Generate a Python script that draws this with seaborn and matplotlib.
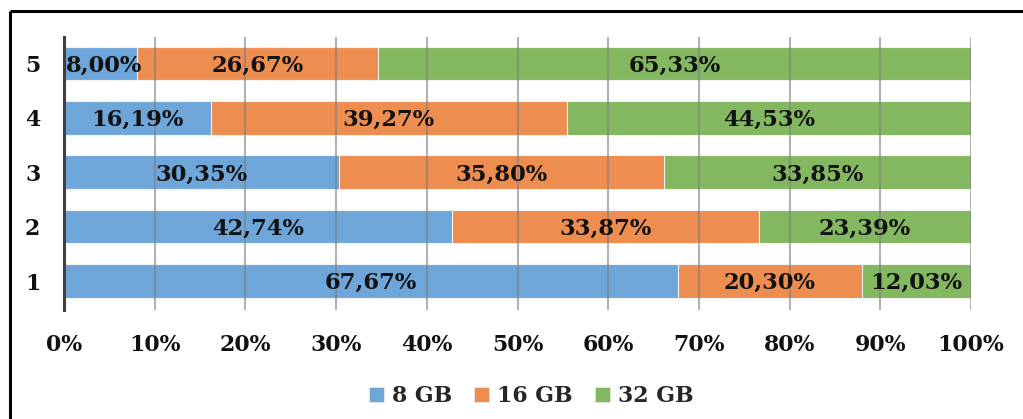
import matplotlib
matplotlib.use("Agg")
import matplotlib.pyplot as plt
from matplotlib.lines import Line2D
from matplotlib.patches import Patch
import numpy as np
import pandas as pd
import seaborn as sns

# Share of each memory size per group (percent)
groups = ["1", "2", "3", "4", "5"]
series = ["8 GB", "16 GB", "32 GB"]
gb8 = [67.67, 42.74, 30.35, 16.19, 8.00]
gb16 = [20.30, 33.87, 35.80, 39.27, 26.67]
gb32 = [12.03, 23.39, 33.85, 44.53, 65.33]
xticks = [0, 10, 20, 30, 40, 50, 60, 70, 80, 90, 100]

colors = ["#6FA6D9", "#EE8D50", "#83B860"]

sns.set_theme(style="white")
plt.rcParams["font.family"] = ["DejaVu Serif"]
plt.rcParams["font.weight"] = "bold"

df = pd.DataFrame({"group": groups, "8 GB": gb8, "16 GB": gb16, "32 GB": gb32})
df["c1"] = df["8 GB"]
df["c2"] = df["8 GB"] + df["16 GB"]
df["c3"] = df["c2"] + df["32 GB"]

order = groups[::-1]

fig = plt.figure(figsize=(10.23, 4.19), dpi=100)
ax = fig.add_axes([64 / 1023, 1 - 310 / 419, 907 / 1023, 273 / 419])

# Stacked bars: draw cumulative totals from back to front
for col, color in zip(["c3", "c2", "c1"], colors[::-1]):
    sns.barplot(data=df, x=col, y="group", order=order, orient="h",
                color=color, saturation=1, width=0.62,
                edgecolor="#F2F2F2", linewidth=0.8, ax=ax, zorder=2)

# Segment labels
lefts = {"8 GB": df["c1"] - df["8 GB"], "16 GB": df["c2"] - df["16 GB"],
         "32 GB": df["c3"] - df["32 GB"]}
for s in series:
    for i, g in enumerate(groups):
        val = df.loc[i, s]
        xc = lefts[s][i] + val / 2
        if val < 10:
            xc += 0.4
        yc = order.index(g)
        ax.text(xc, yc + 0.04, f"{val:.2f}%".replace(".", ","), ha="center",
                va="center", fontsize=16.3, fontweight="bold", color="#111111",
                zorder=5)

ax.set_xlim(0, 100)
ax.set_ylim(4.533, -0.487)
ax.set_xticks(xticks)
ax.set_xticklabels([f"{t}%" for t in xticks])
ax.xaxis.grid(True, color="#7F7F7F", linewidth=1.5, alpha=0.6, zorder=4)
ax.set_axisbelow(False)
ax.yaxis.grid(False)
for sp in ["top", "right", "bottom"]:
    ax.spines[sp].set_visible(False)
ax.spines["left"].set_color("#404040")
ax.spines["left"].set_linewidth(2.2)
ax.spines["left"].set_zorder(6)
ax.tick_params(axis="x", length=0, pad=17, labelsize=15.8)
ax.tick_params(axis="y", length=0, pad=17, labelsize=15.8)
for lab in ax.get_xticklabels() + ax.get_yticklabels():
    lab.set_fontweight("bold")
    lab.set_color("#111111")
ax.set_xlabel("")
ax.set_ylabel("")

handles = [Patch(facecolor=c, edgecolor="#E8E8E8", linewidth=0.6) for c in colors]
fig.legend(handles, series, loc="center", bbox_to_anchor=(531 / 1023, 1 - 396 / 419),
           ncol=3, frameon=False, handlelength=0.7, handleheight=0.7,
           handletextpad=0.35, columnspacing=1.0,
           prop={"family": "DejaVu Serif", "weight": "bold", "size": 15.8})

# Outer frame (top and left edges)
x0, y0 = 10 / 1023, 1 - 11 / 419
fig.add_artist(Line2D([x0, 1.02], [y0, y0], transform=fig.transFigure,
                      color="black", linewidth=2.2, solid_capstyle="butt"))
fig.add_artist(Line2D([x0, x0], [-0.02, y0], transform=fig.transFigure,
                      color="black", linewidth=2.2, solid_capstyle="butt"))

fig.savefig("out.png", dpi=100)
